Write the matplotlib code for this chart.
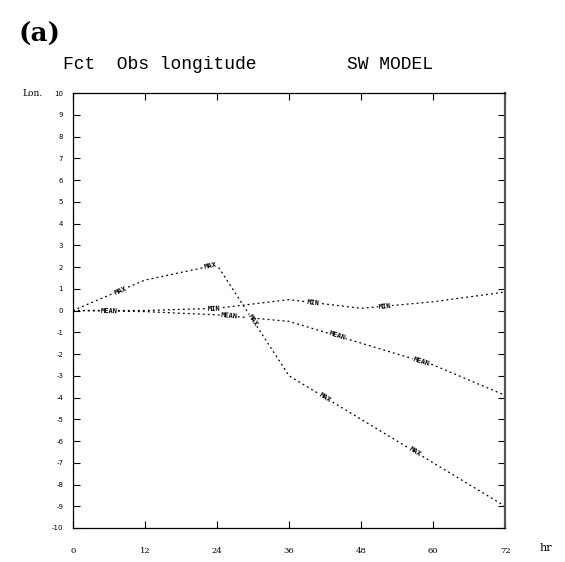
import numpy as np
import matplotlib
matplotlib.use("Agg")
import matplotlib.pyplot as plt

# forecast hours and longitude errors (deg)
hours = [0, 12, 24, 36, 48, 60, 72]
lon_max = [0.0, 1.4, 2.1, -3.0, -5.0, -7.0, -9.0]
lon_mean = [0.0, -0.05, -0.2, -0.5, -1.5, -2.5, -3.9]
lon_min = [0.0, 0.0, 0.1, 0.5, 0.1, 0.4, 0.85]

x_ticks = [0, 12, 24, 36, 48, 60, 72]
y_ticks = list(range(-10, 11))

# inline labels: x position along each line
max_label_x = [8, 23, 30, 42, 57]
mean_label_x = [6, 26, 44, 58]
min_label_x = [23.5, 40, 52]

fig = plt.figure(figsize=(5.65, 5.62), dpi=100)
ax = fig.add_axes([0.129, 0.0605, 0.765, 0.774])

for ys in (lon_max, lon_mean, lon_min):
    ax.plot(hours, ys, color="black", linestyle=(0, (1.5, 2.5)), linewidth=0.9)

ax.set_xlim(0, 72)
ax.set_ylim(-10, 10)
ax.set_xticks(x_ticks)
ax.set_yticks(y_ticks)
ax.set_xticklabels([str(t) for t in x_ticks], fontsize=6, family="DejaVu Serif")
ax.set_yticklabels([str(t) for t in y_ticks], fontsize=5, family="DejaVu Sans")
ax.tick_params(direction="in", length=5, width=0.8, top=True, right=True,
               pad=7)
ax.tick_params(axis="x", pad=14)
for s in ax.spines.values():
    s.set_linewidth(0.9)
ax.spines["right"].set_linewidth(1.6)
ax.spines["right"].set_color("#555555")


def put_labels(xs, ys, where, text):
    for xp in where:
        yp = np.interp(xp, xs, ys)
        # slope in pixel space
        i = min(np.searchsorted(xs, xp, side="right") - 1, len(xs) - 2)
        p0 = ax.transData.transform((xs[i], ys[i]))
        p1 = ax.transData.transform((xs[i + 1], ys[i + 1]))
        ang = np.degrees(np.arctan2(p1[1] - p0[1], p1[0] - p0[0]))
        ax.text(xp, yp, text, fontsize=5, family="DejaVu Sans Mono",
                fontweight="bold", rotation=ang, rotation_mode="anchor",
                ha="center", va="center",
                bbox=dict(facecolor="white", edgecolor="none", pad=0.3))


put_labels(hours, lon_max, max_label_x, "MAX")
put_labels(hours, lon_mean, mean_label_x, "MEAN")
put_labels(hours, lon_min, min_label_x, "MIN")

fig.text(0.032, 0.925, "(a)", fontsize=19, fontweight="bold",
         family="DejaVu Serif")
fig.text(0.112, 0.878, "Fct  Obs longitude", fontsize=13,
         family="Liberation Mono")
fig.text(0.614, 0.878, "SW MODEL", fontsize=13, family="Liberation Mono")
fig.text(0.04, 0.834, "Lon.", fontsize=6.5, family="DejaVu Serif",
         va="center")
fig.text(0.955, 0.02, "hr", fontsize=8, family="DejaVu Serif")

fig.savefig("out.png", dpi=100)
